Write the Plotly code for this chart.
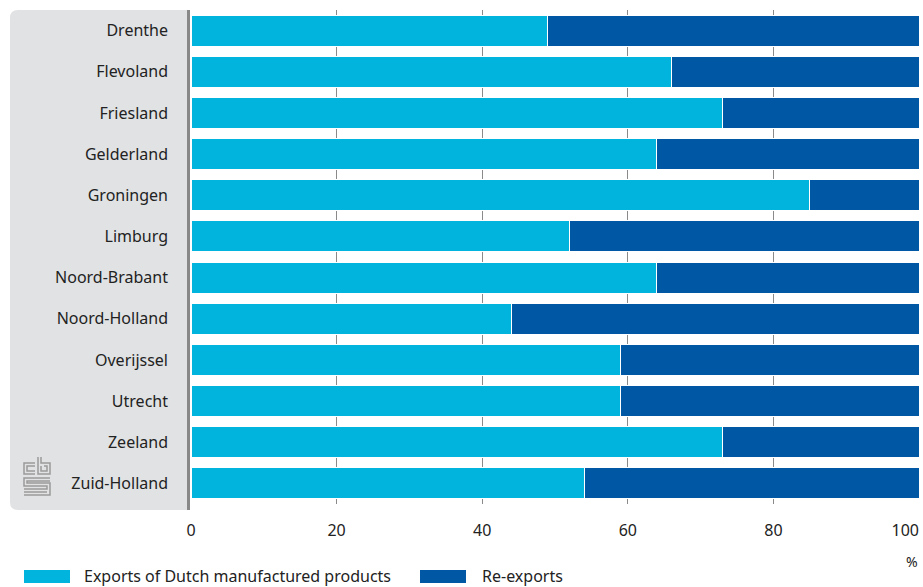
import plotly.graph_objects as go

provinces = ["Drenthe", "Flevoland", "Friesland", "Gelderland", "Groningen", "Limburg",
             "Noord-Brabant", "Noord-Holland", "Overijssel", "Utrecht", "Zeeland", "Zuid-Holland"]
dutch_products = [49, 66, 73, 64, 85, 52, 64, 44, 59, 59, 73, 54]
re_exports = [51, 34, 27, 36, 15, 48, 36, 56, 41, 41, 27, 46]
x_ticks = [0, 20, 40, 60, 80, 100]
x_tick_text = ["0", "20", "40", "60", "80",
               "100<span style='color:rgba(255,255,255,0)'>000</span>"]
series_names = ["Exports of Dutch manufactured products", "Re-exports"]

LIGHT = "#00b4dd"
DARK = "#0058a4"
FONT = "Noto Sans"

W, H = 923, 587
L, R, T, B = 191, 4, 10, 83
PW, PH = W - L - R, H - T - B


def px(x):
    return (x - L) / PW


def py(y):
    return (H - B - y) / PH


fig = go.Figure()
fig.add_trace(go.Bar(y=provinces, x=dutch_products, orientation="h", name=series_names[0],
                     marker=dict(color=LIGHT, line=dict(color="white", width=1)), showlegend=False))
fig.add_trace(go.Bar(y=provinces, x=re_exports, orientation="h", name=series_names[1],
                     marker=dict(color=DARK, line=dict(color="white", width=1)), showlegend=False))

shapes = []
# gray label panel with rounded left corners
x0, x1, y0, y1, r = px(10), px(187), py(10), py(510), 8
rx, ry = r / PW, r / PH
shapes.append(dict(type="path", xref="paper", yref="paper", layer="below",
                   path=(f"M {x1} {y0} L {x0+rx} {y0} Q {x0} {y0} {x0} {y0-ry} "
                         f"L {x0} {y1+ry} Q {x0} {y1} {x0+rx} {y1} L {x1} {y1} Z"),
                   fillcolor="#e1e2e4", line=dict(width=0)))
# axis bar
shapes.append(dict(type="line", xref="paper", yref="paper", x0=px(188.5), x1=px(188.5),
                   y0=py(10), y1=py(510), line=dict(color="#888888", width=3)))

# cbs logo (approximation)
logo_col = "#9a9a9a"
def pl(points):
    d = "M " + " L ".join(f"{px(a)} {py(b)}" for a, b in points)
    shapes.append(dict(type="path", xref="paper", yref="paper", path=d,
                       line=dict(color=logo_col, width=1.5)))

# c
pl([(35, 463), (24, 463), (24, 474), (35, 474)])
pl([(35, 466), (27, 466), (27, 471), (35, 471)])
# b
pl([(38, 457), (38, 474), (50, 474), (50, 463), (41, 463), (41, 457)])
pl([(44, 466), (47, 466), (47, 471), (41, 471), (41, 466)])
# s meander
pl([(50, 478), (24, 478), (24, 486), (47, 486), (47, 489), (24, 489)])
pl([(50, 481), (27, 481), (27, 483), (50, 483), (50, 495), (24, 495)])
pl([(24, 492), (47, 492)])

# legend swatches
shapes.append(dict(type="rect", xref="paper", yref="paper", x0=px(24), x1=px(70),
                   y0=py(570), y1=py(583), fillcolor=LIGHT, line=dict(width=0)))
shapes.append(dict(type="rect", xref="paper", yref="paper", x0=px(420), x1=px(466),
                   y0=py(570), y1=py(583), fillcolor=DARK, line=dict(width=0)))

annotations = [
    dict(text=series_names[0], xref="paper", yref="paper", x=px(82), y=py(576),
         xanchor="left", yanchor="middle", showarrow=False, font=dict(size=16, color="#222")),
    dict(text=series_names[1], xref="paper", yref="paper", x=px(480), y=py(576),
         xanchor="left", yanchor="middle", showarrow=False, font=dict(size=16, color="#222")),
    dict(text="%", xref="paper", yref="paper", x=px(920), y=py(561),
         xanchor="right", yanchor="middle", showarrow=False, font=dict(size=14, color="#222")),
]

fig.update_layout(
    barmode="stack", bargap=0.25,
    width=W, height=H,
    margin=dict(l=L, r=R, t=T, b=B, autoexpand=False),
    paper_bgcolor="white", plot_bgcolor="white",
    font=dict(family=FONT, size=16, color="#222"),
    shapes=shapes, annotations=annotations,
    xaxis=dict(range=[0, 100], tickvals=x_ticks, ticktext=x_tick_text, showgrid=True,
               gridcolor="#8a8a8a", gridwidth=1, zeroline=False, showline=False, ticks="",
               ticklabeloverflow="allow", ticklabelstandoff=15, automargin=False,
               tickfont=dict(size=16, color="#222")),
    yaxis=dict(categoryorder="array", categoryarray=provinces, autorange="reversed",
               showgrid=False, zeroline=False, showline=False, ticks="", automargin=False,
               ticklabelstandoff=22, tickfont=dict(size=16, color="#222")),
)

fig.write_html("out.html")
